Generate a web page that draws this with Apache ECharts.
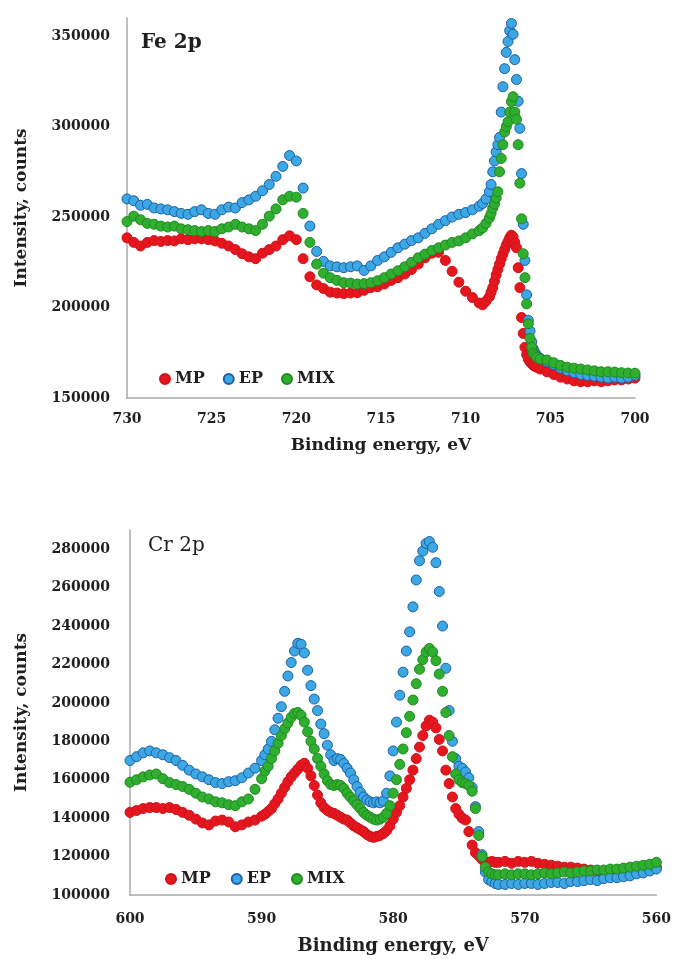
<!DOCTYPE html>
<html>
<head>
<meta charset="utf-8">
<script src="https://cdn.jsdelivr.net/npm/echarts@6/dist/echarts.min.js"></script>
<style>
  html, body { margin: 0; padding: 0; background: #fff; }
  #chart { width: 674px; height: 959px; }
</style>
</head>
<body>
<div id="chart"></div>
<script>
// Fe 2p spectrum
var feEnergy = [
  730.0, 729.6, 729.2, 728.8, 728.4, 728.0, 727.6, 727.2, 726.8, 726.4,
  726.0, 725.6, 725.2, 724.8, 724.4, 724.0, 723.6, 723.2, 722.8, 722.4,
  722.0, 721.6, 721.2, 720.8, 720.4, 720.0, 719.6, 719.2, 718.8, 718.4,
  718.0, 717.6, 717.2, 716.8, 716.4, 716.0, 715.6, 715.2, 714.8, 714.4,
  714.0, 713.6, 713.2, 712.8, 712.4, 712.0, 711.6, 711.2, 710.8, 710.4,
  710.0, 709.6, 709.2, 709.0, 708.8,
  708.6, 708.5, 708.4, 708.3, 708.2, 708.1, 708.0, 707.9, 707.8, 707.7,
  707.6, 707.5, 707.4, 707.3, 707.2, 707.1, 707.0, 706.9, 706.8, 706.7,
  706.6, 706.5, 706.4, 706.3, 706.2, 706.1, 706.0, 705.9, 705.8,
  705.6, 705.2, 704.8, 704.4, 704.0, 703.6, 703.2, 702.8, 702.4, 702.0,
  701.6, 701.2, 700.8, 700.4, 700.0
];
var feMP = [
  238500, 236000, 234000, 236000, 237000, 236500, 237000, 236800, 238000, 237500,
  238000, 238000, 237500, 236800, 235500, 234000, 232000, 229700, 228000, 227000,
  230000, 232000, 234000, 237500, 239600, 237500, 227000, 217000, 212500, 210500,
  208500, 208000, 207700, 208000, 208200, 209500, 211000, 211500, 213000, 215000,
  216500, 218500, 221000, 224000, 227500, 230000, 230500, 226000, 220000, 214000,
  209000, 205500, 202500, 201500, 203500,
  206000, 208500, 211000, 214500, 218000, 221000, 224000, 227000, 229500, 232000,
  234500, 236500, 238500, 240000, 239000, 236000, 233000, 222000, 211000, 194500,
  185700, 178000, 174000, 171500, 170000, 169000, 168000, 167500, 167000,
  166000, 164500, 163000, 161500, 160500, 159500, 159000, 159000, 159500, 159000,
  159500, 160000, 160000, 160500, 161000
];
var feEP = [
  260000, 259000, 256500, 257000, 255000, 254500, 254000, 253000, 252000, 251500,
  253000, 254000, 252000, 251500, 254000, 255500, 255000, 258000, 259500, 261500,
  264500, 268000, 272500, 278000, 284000, 281000, 266000, 245000, 231000, 225500,
  223000, 222500, 222000, 222500, 223000, 220500, 223000, 226000, 228000, 230500,
  233000, 235000, 237000, 238500, 241000, 243500, 246000, 248000, 250000, 251500,
  252500, 254000, 256000, 257500, 260000,
  264000, 268000, 275000, 281000, 286000, 290000, 294000, 308000, 322000, 332000,
  341000, 347000, 353000, 357000, 351000, 337000, 326000, 314000, 299000, 274000,
  246000, 226000, 207000, 193000, 187000, 181000, 177000, 175000, 173500,
  172000, 170000, 168500, 166500, 165000, 164000, 163000, 162500, 162000, 161500,
  161000, 161500, 161000, 161500, 162500
];
var feMIX = [
  247500, 250500, 248500, 246500, 246000, 245000, 244500, 245000, 243500, 243000,
  242500, 242000, 242500, 242000, 243500, 244500, 246000, 244500, 243500, 242500,
  246000, 250500, 254500, 259500, 261500, 261000, 252000, 236000, 224000, 219000,
  216500, 215000, 213700, 213500, 213000, 213200, 213700, 214800, 216500, 218500,
  220300, 222500, 225000, 227500, 229500, 231500, 233000, 234500, 236000, 236800,
  238500, 240700, 242500, 244000, 246500,
  249500, 252000, 255000, 257200, 260500, 264000, 275000, 282400, 290000, 297000,
  300000, 302700, 308000, 313800, 316500, 308000, 304000, 290000, 268700, 249000,
  229700, 216500, 202000, 191000, 183000, 178000, 174700, 173500, 172500,
  171500, 171000, 169500, 168000, 167000, 166500, 166000, 165500, 165000, 164500,
  164500, 164300, 164000, 163800, 163700
];

// Cr 2p spectrum
var crEnergy = [
  600, 599.5, 599, 598.5, 598, 597.5, 597, 596.5, 596, 595.5,
  595, 594.5, 594, 593.5, 593, 592.5, 592, 591.5, 591, 590.5,
  590,
  589.75, 589.5, 589.25, 589, 588.75, 588.5, 588.25, 588, 587.75, 587.5,
  587.25, 587, 586.75, 586.5, 586.25, 586, 585.75, 585.5, 585.25, 585,
  584.75, 584.5, 584.25, 584, 583.75, 583.5, 583.25, 583, 582.75, 582.5,
  582.25, 582, 581.75, 581.5, 581.25, 581, 580.75, 580.5, 580.25, 580,
  579.75, 579.5, 579.25, 579, 578.75, 578.5, 578.25, 578, 577.75, 577.5,
  577.25, 577, 576.75, 576.5, 576.25, 576, 575.75, 575.5, 575.25, 575,
  574.75, 574.5, 574.25, 574, 573.75, 573.5, 573.25, 573, 572.75, 572.5,
  572.25,
  572, 571.5, 571, 570.5, 570, 569.5, 569, 568.5, 568, 567.5,
  567, 566.5, 566, 565.5, 565, 564.5, 564, 563.5, 563, 562.5,
  562, 561.5, 561, 560.5, 560
];
var crMP = [
  143000, 144000, 145000, 145500, 145500, 145000, 145500, 144500, 143000, 141500,
  139500, 137500, 136500, 138500, 139000, 138000, 135500, 136500, 138000, 139000,
  141000,
  142000, 143500, 145000, 147500, 150000, 153000, 156000, 159000, 161500, 163500,
  165500, 167500, 168600, 166000, 162000, 157000, 152000, 148000, 145500, 144000,
  143000, 142500, 141500, 140500, 139500, 139000, 137500, 136000, 135000, 134000,
  133000, 131500, 130500, 130000, 130500, 131000, 132000, 133500, 136000, 139500,
  143000, 146500, 151000, 155500, 160000, 165000, 171000, 177000, 183000, 188000,
  191000, 190000, 187000, 181000, 175000, 165000, 158000, 151000, 145000, 142000,
  140000, 139000, 133000, 126000, 122000, 120500, 118500, 117000, 117000, 117500,
  117000,
  117000, 117500, 116500, 117500, 117000, 117500, 116500, 116000, 115500, 115000,
  114500, 114500, 114000, 113500, 113000, 112500, 112500, 112500, 112000, 112000,
  112500, 113000, 113500, 114000, 114500
];
var crEP = [
  170000, 172000, 174000, 175000, 174000, 173000, 171500, 170000, 167500, 165000,
  163000, 161500, 160000, 158500, 158000, 159000, 159500, 161000, 163500, 166000,
  170000,
  173000, 176000, 180000, 186000, 192000, 198000, 206000, 214000, 221000, 227000,
  231000, 230500, 226000, 217000, 209000, 202000, 196000, 189000, 184000, 178000,
  173000, 170000, 171000, 170500, 168500, 166000, 163500, 160000, 156500, 153500,
  151000, 149500, 148500, 148000, 148500, 148000, 149000, 153000, 162000, 175000,
  190000, 204000, 216000, 227000, 237000, 250000, 264000, 274000, 279000, 283000,
  284000, 281000, 273000, 258000, 240000, 218000, 196000, 180000, 171000, 167000,
  166000, 164000, 161000, 156000, 146000, 133000, 121000, 112000, 108000, 107000,
  106000,
  105500, 105500, 106000, 105500, 106000, 106000, 105500, 106000, 106500, 106500,
  106000, 107000, 107000, 107500, 108000, 107500, 108500, 109000, 109000, 109500,
  110000, 111000, 111500, 112500, 113500
];
var crMIX = [
  158700, 160000, 161500, 162500, 163000, 160500, 158500, 157500, 156500, 155000,
  153000, 151000, 150000, 148500, 148000, 147000, 146500, 148500, 150000, 155000,
  160500,
  164500, 167000, 171000, 175000, 179000, 183000, 186500, 189500, 192500, 194500,
  195000, 193500, 190000, 185000, 180000, 176000, 171000, 167000, 163000, 159500,
  157500, 157000, 157500, 157000, 155500, 153000, 151000, 149000, 147000, 145000,
  143000, 141500, 140500, 139500, 139000, 139500, 140500, 142500, 146500, 153000,
  160000, 168000, 176000, 184500, 193000, 201500, 210000, 217500, 222500, 226500,
  228300, 226500, 222000, 215000, 206000, 195000, 183000, 172000, 163000, 160000,
  158500, 158000, 157000, 154000, 145000, 131000, 120000, 114500, 112000, 111000,
  110500,
  110500, 111000, 110500, 111000, 111000, 110500, 111000, 111500, 111000, 111500,
  112000, 111500, 112000, 112500, 112500, 113000, 113000, 113500, 113500, 114000,
  114500, 115000, 115500, 116000, 117000
];

var seriesNames = ['MP', 'EP', 'MIX'];
var fillColors = ['#e5161e', '#3ba7e3', '#2fae2f'];
var borderColors = ['#d0121a', '#1f5fa6', '#1f8a1f'];

var chart = echarts.init(document.getElementById('chart'));

var serif = 'DejaVu Serif';
var textColor = '#1f1f1f';

function toPoints(energy, values) {
  return energy.map(function (e, i) {
    return [e, values[i]];
  });
}

function makeSeries(index, energy, values, axisIndex) {
  return {
    name: seriesNames[index],
    type: 'scatter',
    xAxisIndex: axisIndex,
    yAxisIndex: axisIndex,
    symbol: 'circle',
    symbolSize: 10,
    itemStyle: {
      color: fillColors[index],
      borderColor: borderColors[index],
      borderWidth: 1,
      opacity: 1
    },
    data: toPoints(energy, values)
  };
}

function xAxisFor(gridIndex, min, max, interval, nameGap, nameSize, labelMargin) {
  return {
    type: 'value',
    gridIndex: gridIndex,
    min: min,
    max: max,
    interval: interval,
    inverse: true,
    name: 'Binding energy, eV',
    nameLocation: 'middle',
    nameGap: nameGap,
    nameTextStyle: { fontFamily: serif, fontWeight: 'bold', fontSize: nameSize, color: textColor },
    axisLine: { show: true, lineStyle: { color: '#a8a8a8', width: 1.5 } },
    axisTick: { show: false },
    splitLine: { show: false },
    axisLabel: { margin: labelMargin, fontFamily: serif, fontWeight: 'bold', fontSize: 14, color: textColor }
  };
}

function yAxisFor(gridIndex, min, max, interval, nameGap, labelMargin) {
  return {
    type: 'value',
    gridIndex: gridIndex,
    min: min,
    max: max,
    interval: interval,
    name: 'Intensity, counts',
    nameLocation: 'middle',
    nameGap: nameGap,
    nameTextStyle: { fontFamily: serif, fontWeight: 'bold', fontSize: 17, color: textColor },
    axisLine: { show: true, lineStyle: { color: '#a8a8a8', width: 1.5 } },
    axisTick: { show: false },
    splitLine: { show: false },
    axisLabel: {
      margin: labelMargin,
      fontFamily: serif,
      fontWeight: 'bold',
      fontSize: 14,
      color: textColor,
      formatter: function (v) {
        return v % interval === 0 && v < max ? String(v) : '';
      }
    }
  };
}

var legendText = { fontFamily: serif, fontWeight: 'bold', fontSize: 16, color: textColor };

var option = {
  animation: false,
  backgroundColor: '#ffffff',
  title: [
    {
      text: 'Fe 2p', left: 136, top: 28,
      textStyle: { fontFamily: serif, fontWeight: 'bold', fontSize: 20, color: textColor }
    },
    {
      text: 'Cr 2p', left: 143, top: 531,
      textStyle: { fontFamily: serif, fontWeight: 'normal', fontSize: 20, color: textColor }
    }
  ],
  legend: [
    {
      data: seriesNames, left: 154, top: 366, icon: 'circle',
      itemWidth: 10, itemHeight: 10, itemGap: 18, textStyle: legendText
    },
    {
      data: seriesNames, left: 160, top: 866, icon: 'circle',
      itemWidth: 10, itemHeight: 10, itemGap: 20, textStyle: legendText
    }
  ],
  grid: [
    { left: 127, right: 39, top: 18, height: 380 },
    { left: 130, right: 16, top: 530, height: 365 }
  ],
  xAxis: [
    xAxisFor(0, 700, 730, 5, 39, 17, 14),
    xAxisFor(1, 560, 600, 10, 42, 18, 17)
  ],
  yAxis: [
    yAxisFor(0, 150000, 360000, 50000, 97, 17),
    yAxisFor(1, 100000, 290000, 20000, 100, 20)
  ],
  series: [
    makeSeries(0, feEnergy, feMP, 0),
    makeSeries(1, feEnergy, feEP, 0),
    makeSeries(2, feEnergy, feMIX, 0),
    makeSeries(0, crEnergy, crMP, 1),
    makeSeries(1, crEnergy, crEP, 1),
    makeSeries(2, crEnergy, crMIX, 1)
  ]
};

chart.setOption(option);
</script>
</body>
</html>
